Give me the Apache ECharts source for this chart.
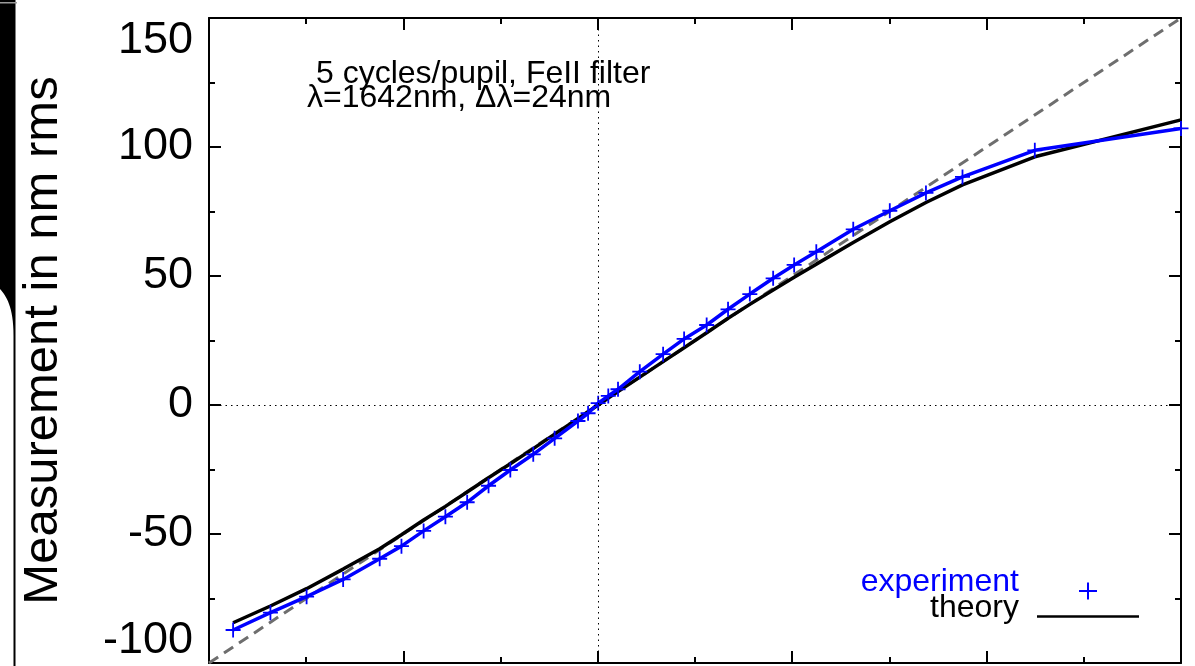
<!DOCTYPE html>
<html>
<head>
<meta charset="utf-8">
<script src="https://cdn.jsdelivr.net/npm/echarts@6/dist/echarts.min.js"></script>
<style>
  html, body { margin: 0; padding: 0; background: #fff; }
  #chart { width: 1195px; height: 666px; }
</style>
</head>
<body>
<div id="chart"></div>
<script>
// Applied aberration amplitude (nm rms) for each measurement point
const amplitude = [-93.8, -84.2, -74.9, -65.5, -56.1, -50.5, -44.8, -39.2, -33.6, -28.1, -22.5,
  -16.6, -11.1, -5.1, -2.5, 0.1, 2.7, 5.2, 10.8, 16.8, 22.2, 28.0, 33.5, 39.1, 45.1, 50.5,
  56.2, 65.7, 75.1, 84.4, 93.8, 112.4, 150.0];
// Measured response (nm rms)
const experiment = [-87.2, -80.5, -74.3, -67.6, -59.6, -54.7, -48.8, -43.3, -37.7, -31.3, -25.2,
  -19.1, -12.9, -6.2, -3.2, 0.7, 3.5, 6.1, 12.9, 19.7, 25.6, 31.0, 37.1, 43.0, 49.1, 54.3,
  59.4, 68.1, 75.3, 82.2, 88.4, 98.7, 107.2];
// Model prediction (nm rms)
const theory = [-84.4, -77.9, -71.2, -63.6, -55.7, -50.3, -44.6, -39.3, -33.7, -28.2, -22.8,
  -16.9, -11.3, -5.3, -2.6, 0.0, 2.7, 5.2, 10.8, 16.8, 22.2, 28.0, 33.6, 39.0, 44.6, 49.5,
  54.6, 63.0, 71.0, 78.5, 85.3, 96.2, 110.5];
// Ideal one-to-one response
const unityEnds = [-100, 150];
// Axis range and tick spacing
const axisMin = -100, axisMax = 150, tickStep = 50;
// Annotation lines
const noteLines = ['5 cycles/pupil, FeII filter', '\u03bb=1642nm, \u0394\u03bb=24nm'];
const yTitle = 'Measurement in nm rms';

const FONT = '"Liberation Sans", Arial, Helvetica, sans-serif';
const pair = (xs, ys) => xs.map((x, i) => [x, ys[i]]);

const plusPath = 'path://M4.4,0H5.6V4.4H10V5.6H5.6V10H4.4V5.6H0V4.4H4.4Z';

// outline of the dark window edge on the far left, with its rounded inner corner
function edgeOutline() {
  const pts = [[0, 0], [15.5, 0], [15.5, 666], [13.5, 666], [13.5, 336]];
  const p0 = [13.5, 336], c1 = [13.5, 306], c2 = [6, 296], p3 = [0, 289];
  for (let i = 1; i <= 16; i++) {
    const t = i / 16, u = 1 - t;
    pts.push([
      u * u * u * p0[0] + 3 * u * u * t * c1[0] + 3 * u * t * t * c2[0] + t * t * t * p3[0],
      u * u * u * p0[1] + 3 * u * u * t * c1[1] + 3 * u * t * t * c2[1] + t * t * t * p3[1]
    ]);
  }
  return pts;
}

function axisCommon(show) {
  return {
    type: 'value', min: axisMin, max: axisMax, interval: tickStep,
    axisLine: { show: true, onZero: false, lineStyle: { color: '#000', width: 2 } },
    axisTick: { show: true, inside: true, length: 12, lineStyle: { color: '#000', width: 2 } },
    minorTick: { show: true, splitNumber: 2, length: 6, lineStyle: { color: '#000', width: 2 } },
    splitLine: { show: false },
    axisLabel: { show: show }
  };
}

const chart = echarts.init(document.getElementById('chart'), null, { renderer: 'canvas' });

chart.setOption({
  animation: false,
  backgroundColor: '#fff',
  grid: { left: 209, right: 14, top: 18, bottom: 3, containLabel: false, outerBoundsMode: 'none' },
  xAxis: [
    Object.assign(axisCommon(false), { position: 'bottom' }),
    Object.assign(axisCommon(false), { position: 'top' })
  ],
  yAxis: [
    Object.assign(axisCommon(true), {
      position: 'left',
      axisLabel: {
        show: true, color: '#000', fontSize: 45, fontFamily: FONT, margin: 16,
        verticalAlignMinLabel: 'bottom', verticalAlignMaxLabel: 'top'
      },
      name: yTitle,
      nameLocation: 'middle',
      nameGap: 141,
      nameRotate: 90,
      nameTextStyle: { color: '#000', fontSize: 49, fontFamily: FONT }
    }),
    Object.assign(axisCommon(false), { position: 'right' })
  ],
  series: [
    {
      name: 'unity',
      type: 'line',
      data: pair(unityEnds, unityEnds),
      symbol: 'none',
      lineStyle: { color: '#6e6e6e', width: 3, type: [11, 7] },
      z: 1,
      markLine: {
        silent: true,
        symbol: 'none',
        label: { show: false },
        lineStyle: { color: '#000', width: 1, type: [1.5, 4] },
        data: [{ xAxis: 0 }, { yAxis: 0 }]
      }
    },
    {
      name: 'theory',
      type: 'line',
      data: pair(amplitude, theory),
      symbol: 'none',
      lineStyle: { color: '#000', width: 3.5 },
      z: 2
    },
    {
      name: 'experiment',
      type: 'line',
      data: pair(amplitude, experiment),
      symbol: plusPath,
      symbolSize: 15,
      showAllSymbol: true,
      itemStyle: { color: '#0000ff' },
      lineStyle: { color: '#0000ff', width: 3.5 },
      z: 3
    }
  ],
  graphic: [
    {
      type: 'polygon', z: 10,
      shape: { points: edgeOutline() },
      style: { fill: '#000' }
    },
    {
      type: 'rect', z: 11,
      shape: { x: 0, y: 2, width: 17, height: 1.5 },
      style: { fill: '#9a9a9a' }
    },
    // annotation
    {
      type: 'text', left: 316, top: 58, z: 20,
      style: { text: noteLines[0], fill: '#000', font: '32px ' + FONT }
    },
    {
      type: 'text', left: 307, top: 82, z: 20,
      style: { text: noteLines[1], fill: '#000', font: '32px ' + FONT }
    },
    // legend
    {
      type: 'text', right: 1195 - 1019, top: 566, z: 20,
      style: { text: 'experiment', fill: '#0000ff', font: '32px ' + FONT }
    },
    {
      type: 'text', right: 1195 - 1019, top: 592, z: 20,
      style: { text: 'theory', fill: '#000', font: '32px ' + FONT }
    },
    {
      type: 'line', z: 20,
      shape: { x1: 1079, y1: 591, x2: 1097, y2: 591 },
      style: { stroke: '#0000ff', lineWidth: 2 }
    },
    {
      type: 'line', z: 20,
      shape: { x1: 1088, y1: 582.5, x2: 1088, y2: 599.5 },
      style: { stroke: '#0000ff', lineWidth: 2 }
    },
    {
      type: 'line', z: 20,
      shape: { x1: 1037, y1: 616.5, x2: 1139, y2: 616.5 },
      style: { stroke: '#000', lineWidth: 2.5 }
    }
  ]
});
</script>
</body>
</html>
